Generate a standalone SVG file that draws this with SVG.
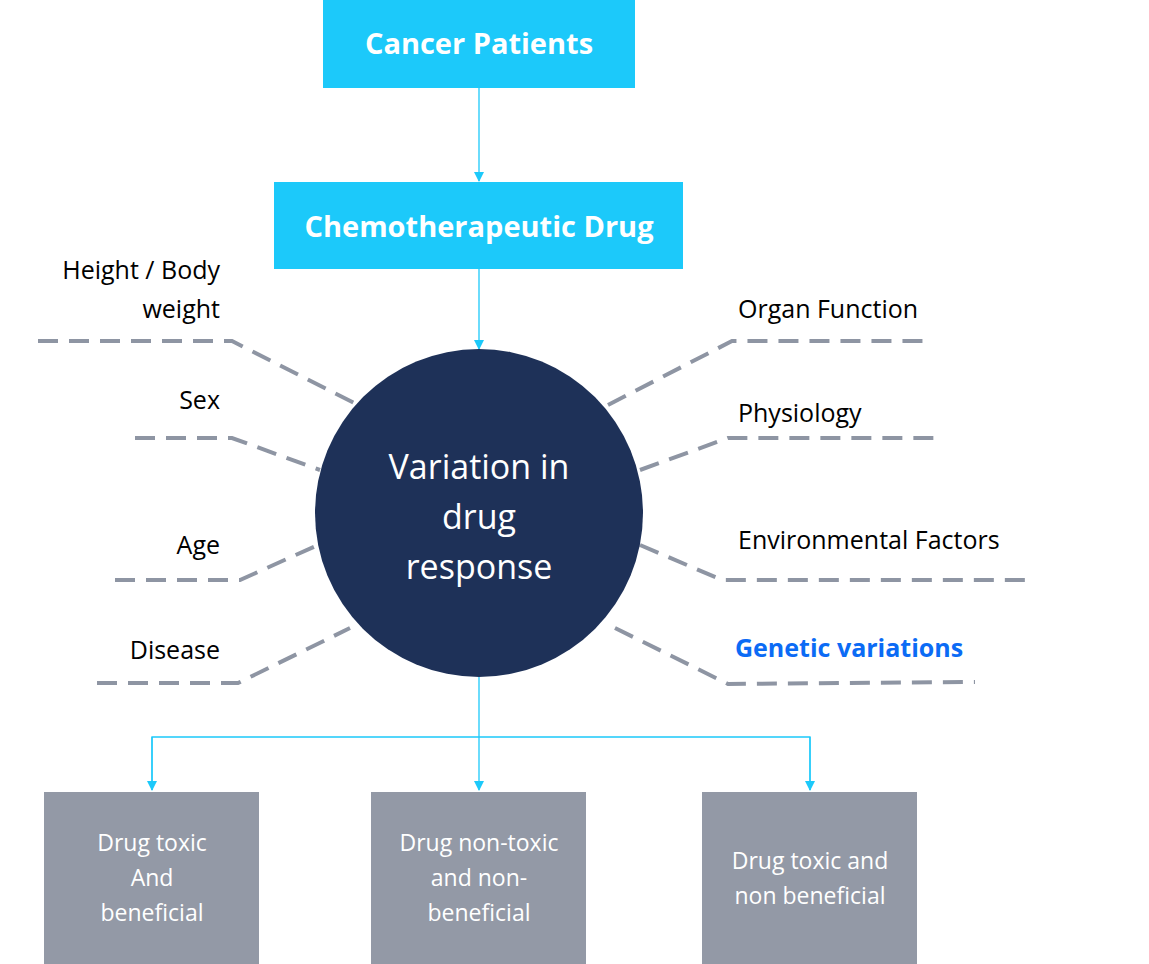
<svg xmlns="http://www.w3.org/2000/svg" width="1149" height="964" viewBox="0 0 1149 964">
<style>
.hb{fill:#1CC9FA}
.ht{font-family:"Open Sans","Liberation Sans",sans-serif;font-weight:bold;font-size:29px;fill:#fff;text-anchor:middle}
.lbl{font-family:"Open Sans","Liberation Sans",sans-serif;font-size:25px;fill:#000}
.r{text-anchor:end}
.d{fill:none;stroke:#8E95A3;stroke-width:4;stroke-dasharray:20,11}
.c{fill:none;stroke:#1CC9FA;stroke-width:1.3}
.bx{fill:#9399A6}
.bt{font-family:"Open Sans","Liberation Sans",sans-serif;font-size:23px;fill:#fff;text-anchor:middle}
</style>
<defs><marker id="a" markerWidth="10" markerHeight="10" refX="9" refY="5" orient="auto" markerUnits="userSpaceOnUse"><path d="M0,0 L10,5 L0,10 z" fill="#1CC9FA"/></marker></defs>
<rect width="1149" height="964" fill="#fff"/>
<g id="connectors">
<line class="c" x1="479" y1="88" x2="479" y2="181" marker-end="url(#a)"/>
<line class="c" x1="479" y1="269" x2="479" y2="349" marker-end="url(#a)"/>
<line class="c" x1="479" y1="677" x2="479" y2="790" marker-end="url(#a)"/>
<polyline class="c" points="152,790 152,737 810,737 810,790"/>
<line class="c" x1="152" y1="737" x2="152" y2="790" marker-end="url(#a)"/>
<line class="c" x1="810" y1="737" x2="810" y2="790" marker-end="url(#a)"/>
<polyline class="d" points="38,341 232,341 358,405"/>
<polyline class="d" points="135,438 232,438 320,470"/>
<polyline class="d" points="115,580 240,580 318,545"/>
<polyline class="d" points="97,683 238,683 350,628"/>
<polyline class="d" points="608,405 732,341 928,341"/>
<polyline class="d" points="640,470 728,438 937,438"/>
<polyline class="d" points="640,545 722,580 1035,580"/>
<polyline class="d" points="615,628 728,684 975,682"/>
</g>
<g id="cancer"><rect class="hb" x="323" y="0" width="312" height="88"/><text class="ht" x="479" y="54">Cancer Patients</text></g>
<g id="chemo"><rect class="hb" x="274" y="182" width="409" height="87"/><text class="ht" x="479" y="237">Chemotherapeutic Drug</text></g>
<g id="center"><circle cx="479" cy="513" r="164" fill="#1E3158"/>
<text font-family="Open Sans,Liberation Sans,sans-serif" font-size="34" fill="#fff" text-anchor="middle"><tspan x="479" y="479">Variation in</tspan><tspan x="479" y="529">drug</tspan><tspan x="479" y="579">response</tspan></text></g>
<g id="labels">
<text class="lbl r" x="220" y="279">Height / Body</text>
<text class="lbl r" x="220" y="318">weight</text>
<text class="lbl r" x="220" y="409">Sex</text>
<text class="lbl r" x="220" y="554">Age</text>
<text class="lbl r" x="220" y="659">Disease</text>
<text class="lbl" x="738" y="318">Organ Function</text>
<text class="lbl" x="738" y="422">Physiology</text>
<text class="lbl" x="738" y="549">Environmental  Factors</text>
<text class="lbl" x="735" y="657" fill="#0B6BF5" font-weight="bold" style="fill:#0B6BF5">Genetic variations</text>
</g>
<g id="b1"><rect class="bx" x="44" y="792" width="215" height="172"/><text class="bt"><tspan x="152" y="851">Drug toxic</tspan><tspan x="152" y="886">And</tspan><tspan x="152" y="921">beneficial</tspan></text></g>
<g id="b2"><rect class="bx" x="371" y="792" width="215" height="172"/><text class="bt"><tspan x="479" y="851">Drug non-toxic</tspan><tspan x="479" y="886">and non-</tspan><tspan x="479" y="921">beneficial</tspan></text></g>
<g id="b3"><rect class="bx" x="702" y="792" width="215" height="172"/><text class="bt"><tspan x="810" y="869">Drug toxic and</tspan><tspan x="810" y="904">non beneficial</tspan></text></g>
</svg>
